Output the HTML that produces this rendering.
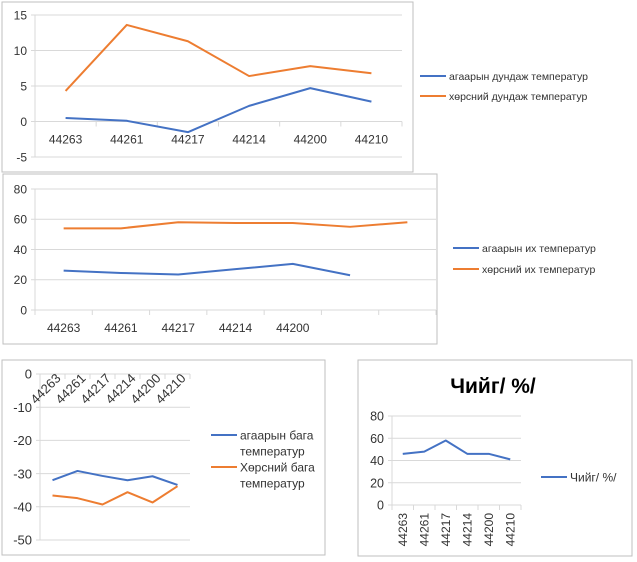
<!DOCTYPE html>
<html><head><meta charset="utf-8"><style>
body{margin:0;background:#fff;}
svg{display:block;font-family:"Liberation Sans","DejaVu Sans",sans-serif;}
</style></head><body>
<svg id="s" width="637" height="562" viewBox="0 0 637 562">
<rect x="2" y="2" width="411" height="170" fill="#fff" stroke="#bfbfbf"/>
<rect x="3" y="174" width="434" height="170" fill="#fff" stroke="#bfbfbf"/>
<rect x="2" y="360" width="323" height="195" fill="#fff" stroke="#bfbfbf"/>
<rect x="358" y="360" width="274" height="196" fill="#fff" stroke="#bfbfbf"/>
<text x="493" y="393" font-size="21" font-weight="bold" text-anchor="middle">Чийг/ %/</text>
<g id="g"></g>
</svg>
<script>
const cats1 = ["44263","44261","44217","44214","44200","44210"];
const air1 = [0.5,0.1,-1.5,2.2,4.7,2.8];
const soil1 = [4.3,13.6,11.3,6.4,7.8,6.8];
const ticks1 = [15,10,5,0,-5];
const cats2 = ["44263","44261","44217","44214","44200","",""];
const air2 = [26,24.5,23.5,27,30.5,23];
const soil2 = [54,54,58,57.5,57.5,55,58];
const ticks2 = [80,60,40,20,0];
const cats3 = ["44263","44261","44217","44214","44200","44210"];
const air3 = [-32,-29.2,-30.7,-32,-30.8,-33.4];
const soil3 = [-36.6,-37.4,-39.3,-35.6,-38.7,-33.8];
const ticks3 = [0,-10,-20,-30,-40,-50];
const cats4 = ["44263","44261","44217","44214","44200","44210"];
const hum4 = [46,48,58,46,46,41];
const ticks4 = [80,60,40,20,0];

const NS="http://www.w3.org/2000/svg";
const G=document.getElementById('g');
function mk(t,a,txt){const e=document.createElementNS(NS,t);for(const k in a)e.setAttribute(k,a[k]);if(txt!==undefined)e.textContent=txt;G.appendChild(e);return e;}
const BLUE="#4472c4",ORANGE="#ed7d31",TXT="#333";

function chart(o){
  const {x0,x1,ymin,ymax,ytop,ybot,cats,ticks,series,label,zeroY,prefix,fs,xfs}=o;
  const sy=v=>ybot-(v-ymin)/(ymax-ymin)*(ybot-ytop);
  const cw=(x1-x0)/cats.length;
  const sx=i=>x0+cw*(i+0.5);
  ticks.forEach(t=>{
    const gl=mk('line',{x1:x0-4,x2:x1,y1:sy(t),y2:sy(t),stroke:'#d9d9d9'});
    
    
    const tl=mk('text',{x:x0-8,y:sy(t)+fs*0.36,'font-size':fs,'text-anchor':'end',fill:TXT},String(t));
    
    
  });
  const ay=sy(zeroY);
  const ax=mk('line',{x1:x0,x2:x0,y1:sy(ymax),y2:sy(ymin),stroke:'#d9d9d9'});
  
  
  for(let i=0;i<=cats.length;i++){
    const tk=mk('line',{x1:x0+cw*i,x2:x0+cw*i,y1:ay,y2:ay+5,stroke:'#d9d9d9'});
    
    
  }
  cats.forEach((c,i)=>{
    let t;
    if(label==='flat') t=mk('text',{x:sx(i),y:ay+22,'font-size':xfs,'text-anchor':'middle',fill:TXT},c);
    else if(label==='diag') t=mk('text',{x:sx(i)+9,y:ay+5,'font-size':xfs,'text-anchor':'end',fill:TXT,transform:`rotate(-45 ${sx(i)+9} ${ay+5})`},c);
    else t=mk('text',{x:sx(i)+4,y:ay+8,'font-size':xfs,'text-anchor':'end',fill:TXT,transform:`rotate(-90 ${sx(i)+4} ${ay+8})`},c);
    
    
  });
  series.forEach(s=>{
    const p=s.vals.map((v,i)=>sx(i)+','+sy(v)).join(' ');
    const pl=mk('polyline',{points:p,fill:'none',stroke:s.color,'stroke-width':2,'stroke-linejoin':'round'});
    
    
  });
}
function legend(x,y,color,lines,name,fs){
  const l=mk('line',{x1:x,x2:x+26,y1:y,y2:y,stroke:color,'stroke-width':2});
  
  
  lines.forEach((t,i)=>{
    const e=mk('text',{x:x+29,y:y+fs*0.38+i*16,'font-size':fs,fill:TXT},t);
    
    
  });
}
chart({prefix:'chart1',fs:12,xfs:12,x0:35,x1:402,ymin:-5,ymax:15,ytop:15,ybot:157,zeroY:0,cats:cats1,ticks:ticks1,label:'flat',
  series:[{vals:air1,color:BLUE,name:'chart1-air-avg-line'},{vals:soil1,color:ORANGE,name:'chart1-soil-avg-line'}]});
legend(420,76,BLUE,["агаарын дундаж температур"],'chart1-legend-air',10.5);
legend(420,96,ORANGE,["хөрсний дундаж температур"],'chart1-legend-soil',10.5);

chart({prefix:'chart2',fs:12,xfs:12,x0:35,x1:436,ymin:0,ymax:80,ytop:189,ybot:310,zeroY:0,cats:cats2,ticks:ticks2,label:'flat',
  series:[{vals:air2,color:BLUE,name:'chart2-air-max-line'},{vals:soil2,color:ORANGE,name:'chart2-soil-max-line'}]});
legend(453,248,BLUE,["агаарын их температур"],'chart2-legend-air',10.5);
legend(453,269,ORANGE,["хөрсний их температур"],'chart2-legend-soil',10.5);

chart({prefix:'chart3',fs:13,xfs:13,x0:40,x1:190,ymin:-50,ymax:0,ytop:374,ybot:540,zeroY:0,cats:cats3,ticks:ticks3,label:'diag',
  series:[{vals:air3,color:BLUE,name:'chart3-air-min-line'},{vals:soil3,color:ORANGE,name:'chart3-soil-min-line'}]});
legend(211,435,BLUE,["агаарын бага","температур"],'chart3-legend-air',12);
legend(211,467,ORANGE,["Хөрсний бага","температур"],'chart3-legend-soil',12);

chart({prefix:'chart4',fs:12.5,xfs:12,x0:392,x1:521,ymin:0,ymax:80,ytop:416,ybot:505,zeroY:0,cats:cats4,ticks:ticks4,label:'vert',
  series:[{vals:hum4,color:BLUE,name:'chart4-humidity-line'}]});
legend(541,477,BLUE,["Чийг/ %/"],'chart4-legend-humidity',12);
</script>
</body></html>
